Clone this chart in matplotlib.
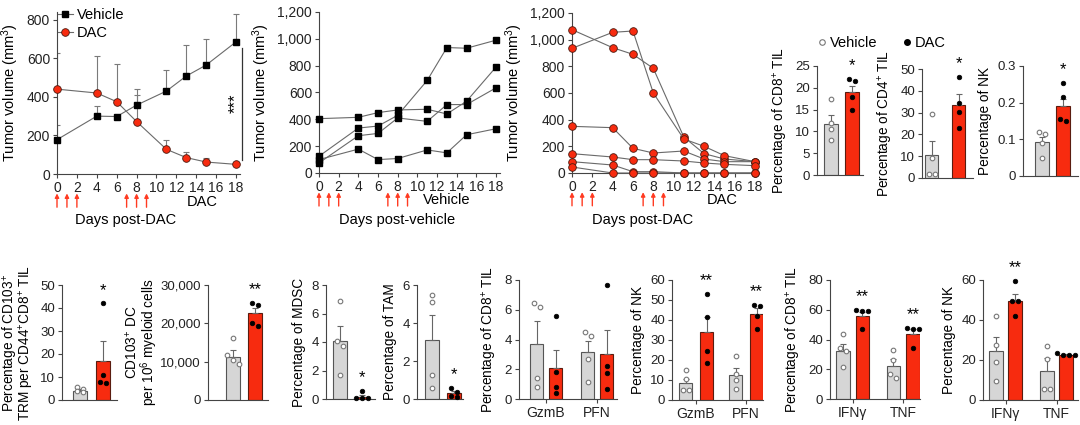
import numpy as np
import matplotlib
matplotlib.use("Agg")
import matplotlib.pyplot as plt
from matplotlib.lines import Line2D
from matplotlib.ticker import FuncFormatter

plt.rcParams['font.family'] = ['Liberation Sans', 'DejaVu Sans']
plt.rcParams['mathtext.fontset'] = 'custom'
plt.rcParams['mathtext.rm'] = 'Liberation Sans'
plt.rcParams['mathtext.it'] = 'Liberation Sans:italic'
plt.rcParams['mathtext.bf'] = 'Liberation Sans:bold'

# ---------------- data: tumour growth ----------------
days = [0, 4, 6, 8, 11, 13, 15, 18]
dose_days = [0, 1, 2, 7, 8, 9]

veh_mean = [178, 300, 298, 357, 430, 508, 565, 685]
veh_err = [77, 55, 0, 83, 110, 162, 135, 143]
dac_mean = [440, 420, 375, 272, 128, 85, 62, 50]
dac_err = [190, 192, 195, 138, 50, 30, 23, 12]

veh_m1 = [125, 335, 350, 430, 690, 935, 930, 990]
veh_m2 = [405, 415, 450, 470, 475, 440, 535, 790]
veh_m3 = [75, 278, 295, 410, 385, 510, 510, 635]
veh_m4 = [100, 178, 100, 108, 172, 150, 285, 330]

dac_m1 = [1075, 940, 890, 785, 270, 145, 105, 85]
dac_m2 = [935, 1055, 1065, 600, 255, 200, 130, 85]
dac_m3 = [350, 340, 185, 150, 165, 105, 85, 85]
dac_m4 = [145, 120, 100, 100, 90, 75, 65, 55]
dac_m5 = [85, 60, 10, 10, 0, 0, 0, 0]
dac_m6 = [45, 0, 0, 0, 0, 0, 0, 0]

# ---------------- data: immune profiling ----------------
cd8_til_veh = [17.5, 12.0, 10.5, 8.0]
cd8_til_dac = [21.5, 22.0, 18.0, 15.0]
cd8_til_mean = [11.7, 19.0]
cd8_til_sem = [2.0, 1.5]
cd8_til_sig = ['*']

cd4_til_veh = [29.5, 9.0, 2.0, 2.0]
cd4_til_dac = [46.5, 34.5, 30.5, 23.0]
cd4_til_mean = [10.5, 33.5]
cd4_til_sem = [6.5, 5.0]
cd4_til_sig = ['*']

nk_veh = [0.115, 0.12, 0.09, 0.05]
nk_dac = [0.255, 0.215, 0.155, 0.15]
nk_mean = [0.092, 0.19]
nk_sem = [0.015, 0.02]
nk_sig = ['*']

trm_veh = [5.0, 5.5, 3.5, 4.0]
trm_dac = [42.0, 11.0, 8.0, 7.5]
trm_mean = [4.0, 17.0]
trm_sem = [0.7, 8.5]
trm_sig = ['*']

dc_veh = [16200, 11700, 10500, 9500]
dc_dac = [25300, 24700, 20000, 19300]
dc_mean = [11300, 22600]
dc_sem = [1700, 1500]
dc_sig = ['**']

mdsc_veh = [6.9, 4.05, 3.7, 1.65]
mdsc_dac = [0.55, 0.1, 0.1, 0.1]
mdsc_mean = [4.05, 0.15]
mdsc_sem = [1.1, 0.1]
mdsc_sig = ['*']

tam_veh = [5.5, 5.1, 1.25, 0.6]
tam_dac = [0.6, 0.35, 0.1, 0.15]
tam_mean = [3.1, 0.3]
tam_sem = [1.3, 0.12]
tam_sig = ['*']

cyto_labels = ['GzmB', 'PFN']
cd8_cyto_veh = [[6.2, 6.45, 1.4, 0.8], [4.5, 4.25, 2.7, 1.15]]
cd8_cyto_dac = [[5.55, 1.8, 0.8, 0.4], [7.65, 2.2, 1.75, 0.7]]
cd8_cyto_mean = [3.7, 2.1, 3.15, 3.05]
cd8_cyto_sem = [1.55, 1.2, 0.75, 1.6]
cd8_cyto_sig = ['', '']

nk_cyto_veh = [[15.0, 10.5, 5.0, 5.0], [22.0, 13.0, 10.0, 5.5]]
nk_cyto_dac = [[53.0, 41.5, 24.5, 18.5], [47.0, 47.5, 42.0, 35.5]]
nk_cyto_mean = [8.5, 34.0, 12.5, 43.0]
nk_cyto_sem = [2.2, 7.5, 3.5, 2.8]
nk_cyto_sig = ['**', '**']

cytok_labels = ['IFNγ', 'TNF']
cd8_cytok_veh = [[43.5, 34.0, 32.5, 21.5], [33.0, 26.0, 16.5, 14.0]]
cd8_cytok_dac = [[60.0, 59.0, 59.0, 47.0], [48.0, 47.0, 47.0, 34.0]]
cd8_cytok_mean = [32.5, 55.5, 22.5, 44.0]
cd8_cytok_sem = [4.5, 2.8, 4.3, 3.0]
cd8_cytok_sig = ['**', '**']

nk_cytok_veh = [[42.0, 27.5, 19.0, 9.5], [27.0, 20.5, 5.5, 5.5]]
nk_cytok_dac = [[59.5, 49.5, 49.5, 42.0], [22.5, 23.5, 22.5, 22.5]]
nk_cytok_mean = [24.5, 49.5, 14.5, 22.5]
nk_cytok_sem = [7.0, 3.6, 6.5, 0.4]
nk_cytok_sig = ['**', '']

# ---------------- style ----------------
RED = '#f72b0f'
ARROW = '#ff3b22'
GREY_BAR = '#d6d6d6'
EDGE = '#555555'
SPINE = '#444444'
FS_TOP = 10
FS = 9.5

W, H = 1080, 425
fig = plt.figure(figsize=(W / 100, H / 100), dpi=100)


def make_ax(l, r, b, t, fs=FS):
    ax = fig.add_axes([l / W, 1 - b / H, (r - l) / W, (b - t) / H])
    for s in ['top', 'right']:
        ax.spines[s].set_visible(False)
    for s in ['left', 'bottom']:
        ax.spines[s].set_color(SPINE)
        ax.spines[s].set_linewidth(0.8)
    ax.tick_params(length=3, width=0.8, color=SPINE, labelsize=fs, pad=2,
                   labelcolor='#222222')
    return ax


comma = FuncFormatter(lambda v, p: f'{v:,.0f}')
plain = FuncFormatter(lambda v, p: f'{v:g}')


def arrows(ax, label, label_x):
    for d in dose_days:
        ax.annotate('', xy=(d, -0.12), xytext=(d, -0.205),
                    xycoords=('data', 'axes fraction'),
                    textcoords=('data', 'axes fraction'),
                    arrowprops=dict(arrowstyle='-|>', color=ARROW, lw=1.0,
                                    mutation_scale=6, shrinkA=0, shrinkB=0))
    ax.text(label_x, -0.17, label, transform=ax.get_xaxis_transform(),
            ha='center', va='center', fontsize=FS_TOP + 0.5)


def line_axes(l, r, b, t, ymax, yticks):
    ax = make_ax(l, r, b, t, FS_TOP)
    ax.set_xlim(0, 18.4)
    ax.set_ylim(0, ymax)
    ax.set_xticks(range(0, 19, 2))
    ax.set_yticks(yticks)
    ax.yaxis.set_major_formatter(comma)
    ax.set_ylabel('Tumor volume (mm$^{3}$)', fontsize=FS_TOP + 0.5, labelpad=4)
    return ax


# ---- Panel A: mean growth ----
axA = line_axes(57, 240, 174, 12, 840, [0, 200, 400, 600, 800])
zeros = np.zeros(len(days))
axA.errorbar(days, veh_mean, yerr=[zeros, veh_err], fmt='none', ecolor='#7a7a7a',
             elinewidth=0.8, capsize=2.5, capthick=0.8, zorder=2)
axA.errorbar(days, dac_mean, yerr=[zeros, dac_err], fmt='none', ecolor='#7a7a7a',
             elinewidth=0.8, capsize=2.5, capthick=0.8, zorder=2)
axA.plot(days, veh_mean, color='#6a6a6a', lw=0.8, marker='s', ms=5, mfc='black',
         mec='black', zorder=4, clip_on=False, label='Vehicle')
axA.plot(days, dac_mean, color='#6a6a6a', lw=0.8, marker='o', ms=5.5, mfc=RED,
         mec='#4a1a10', mew=0.6, zorder=4, clip_on=False, label='DAC')
axA.legend(loc='upper left', bbox_to_anchor=(58 / W, 1 - 8 / H),
           bbox_transform=fig.transFigure, frameon=False, fontsize=FS_TOP + 0.5,
           handlelength=1.0, handletextpad=0.3, borderaxespad=0, borderpad=0,
           labelspacing=0.25)
sig_x = 18.6
axA.plot([sig_x, sig_x], [dac_mean[-1] + 25, veh_mean[-1] - 30], color='#333333',
         lw=0.9, clip_on=False)
axA.text(17.95, (dac_mean[-1] + veh_mean[-1]) / 2, '***', rotation=90,
         ha='center', va='center', fontsize=12)
arrows(axA, 'DAC', 14.6)
fig.text(126 / W, 1 - 220 / H, 'Days post-DAC', ha='center', va='center',
         fontsize=FS_TOP + 0.5)

# ---- Panel B: vehicle individual ----
axB = line_axes(319, 500, 173, 12, 1200, [0, 200, 400, 600, 800, 1000, 1200])
for m in [veh_m1, veh_m2, veh_m3, veh_m4]:
    axB.plot(days, m, color='#6a6a6a', lw=0.8, marker='s', ms=5, mfc='black',
             mec='black', clip_on=False, zorder=3)
arrows(axB, 'Vehicle', 13.0)
fig.text(397 / W, 1 - 220 / H, 'Days post-vehicle', ha='center', va='center',
         fontsize=FS_TOP + 0.5)

# ---- Panel C: DAC individual ----
axC = line_axes(572, 759, 173, 13, 1200, [0, 200, 400, 600, 800, 1000, 1200])
for m in [dac_m1, dac_m2, dac_m3, dac_m4, dac_m5, dac_m6]:
    axC.plot(days, m, color='#6a6a6a', lw=0.8, marker='o', ms=5.5, mfc=RED,
             mec='#4a1a10', mew=0.6, clip_on=False, zorder=3)
arrows(axC, 'DAC', 14.75)
fig.text(643 / W, 1 - 220 / H, 'Days post-DAC', ha='center', va='center',
         fontsize=FS_TOP + 0.5)


# ---------------- bar panels ----------------
def swarm(vals, ppu_y, step):
    """horizontal offsets (data units) for points that overlap vertically"""
    vals = np.asarray(vals, float)
    order = np.argsort(-vals)
    offs = np.zeros(len(vals))
    clusters, cur = [], [order[0]]
    for a, b in zip(order[:-1], order[1:]):
        if abs(vals[a] - vals[b]) * ppu_y < 5.0:
            cur.append(b)
        else:
            clusters.append(cur)
            cur = [b]
    clusters.append(cur)
    for c in clusters:
        k = len(c)
        if k == 4 and abs(vals[c[0]] - vals[c[-1]]) * ppu_y > 2.0:
            pattern = [-0.5, 0.5, -0.5, 0.5]
        else:
            pattern = [i - (k - 1) / 2 for i in range(k)]
        for p, idx in zip(pattern, c):
            offs[idx] = p * step
    return offs


def bar_panel(rect, t0, t1, unit, veh_pts, dac_pts, means, sems, sigs,
              ymax, yticks, ylabel, xlabels=None, fmt=plain):
    l, r, b, t = rect
    ax = make_ax(l, r, b, t)
    ax.set_xlim((l - t0) / unit, (r - t0) / unit)
    ax.set_ylim(0, ymax)
    ax.set_yticks(yticks)
    ax.yaxis.set_major_formatter(fmt)
    ppu_y = (b - t) / ymax
    gap = 0 if t1 is None else (t1 - t0) / unit
    width = 13.5 / unit
    step = 6.0 / unit
    ngroups = len(veh_pts)
    centers = []
    for g in range(ngroups):
        xv, xd = g * gap - 0.5, g * gap + 0.5
        centers.append(g * gap)
        mv, md = means[2 * g], means[2 * g + 1]
        sv, sd = sems[2 * g], sems[2 * g + 1]
        ax.bar([xv], [mv], width=width, color=GREY_BAR, edgecolor=EDGE, lw=0.8, zorder=2)
        ax.bar([xd], [md], width=width, color=RED, edgecolor='#5a1c10', lw=0.8, zorder=2)
        ax.errorbar([xv, xd], [mv, md], yerr=[[0, 0], [sv, sd]], fmt='none',
                    ecolor='#666666', elinewidth=0.8, capsize=2, capthick=0.8, zorder=3)
        ov = swarm(veh_pts[g], ppu_y, step)
        od = swarm(dac_pts[g], ppu_y, step)
        ax.scatter(xv + ov, veh_pts[g], s=11, facecolor='white', edgecolor='#777777',
                   lw=0.8, zorder=4, clip_on=False)
        ax.scatter(xd + od, dac_pts[g], s=11, facecolor='black', edgecolor='black',
                   lw=0.5, zorder=4, clip_on=False)
        if sigs[g]:
            top = max(max(dac_pts[g]), md + sd)
            ax.annotate(sigs[g], xy=(xd, top), xytext=(0, 4), textcoords='offset points',
                        ha='center', va='bottom', fontsize=12)
    if xlabels is None:
        ax.set_xticks([])
    else:
        ax.set_xticks(centers)
        ax.set_xticklabels(xlabels, fontsize=FS + 0.5)
    if isinstance(ylabel, str):
        ax.set_ylabel(ylabel, fontsize=FS + 0.3, labelpad=4)
    else:
        # multi-line label placed line by line (x pixel, text)
        yc = 1 - (b + t) / 2 / H
        for xpx, txt in ylabel:
            fig.text(xpx / W, yc, txt, rotation=90, ha='center', va='center',
                     fontsize=FS + 0.3)
    return ax


bar_panel((817, 863, 175, 66), 841.5, None, 21, [cd8_til_veh], [cd8_til_dac],
          cd8_til_mean, cd8_til_sem, cd8_til_sig, 25, [0, 5, 10, 15, 20, 25],
          'Percentage of CD8$^{+}$ TIL')
bar_panel((922, 973, 178, 69), 945, None, 27, [cd4_til_veh], [cd4_til_dac],
          cd4_til_mean, cd4_til_sem, cd4_til_sig, 50, [0, 10, 20, 30, 40, 50],
          'Percentage of CD4$^{+}$ TIL')
bar_panel((1023, 1078, 176, 66), 1052.5, None, 21, [nk_veh], [nk_dac],
          nk_mean, nk_sem, nk_sig, 0.3, [0, 0.1, 0.2, 0.3],
          'Percentage of NK')

leg_handles = [Line2D([], [], ls='none', marker='o', ms=4, mfc='white', mec='#777777', mew=0.8),
               Line2D([], [], ls='none', marker='o', ms=4, mfc='black', mec='black')]
fig.legend(leg_handles, ['Vehicle', 'DAC'], loc='center left',
           bbox_to_anchor=(818 / W, 1 - 43 / H), ncol=2, frameon=False,
           fontsize=FS + 1, handlelength=0.5, handletextpad=0.3, columnspacing=1.8,
           borderpad=0, borderaxespad=0)

bar_panel((62, 117, 400, 285), 91.5, None, 23, [trm_veh], [trm_dac],
          trm_mean, trm_sem, trm_sig, 50, [0, 10, 20, 30, 40, 50],
          [(10, 'Percentage of CD103$^{+}$'),
           (27, 'TRM per CD44$^{+}$CD8$^{+}$ TIL')])
bar_panel((208, 268, 400, 285), 244, None, 22, [dc_veh], [dc_dac],
          dc_mean, dc_sem, dc_sig, 30000, [0, 10000, 20000, 30000],
          [(132, 'CD103$^{+}$ DC'), (149, 'per 10$^{6}$ myeloid cells')], fmt=comma)
bar_panel((326, 375, 399, 285), 351, None, 22, [mdsc_veh], [mdsc_dac],
          mdsc_mean, mdsc_sem, mdsc_sig, 8, [0, 2, 4, 6, 8],
          'Percentage of MDSC')
bar_panel((417, 463, 399, 285), 443, None, 22, [tam_veh], [tam_dac],
          tam_mean, tam_sem, tam_sig, 6, [0, 2, 4, 6],
          'Percentage of TAM')
bar_panel((519, 617, 399, 280), 546, 597, 19, cd8_cyto_veh, cd8_cyto_dac,
          cd8_cyto_mean, cd8_cyto_sem, cd8_cyto_sig, 8, [0, 2, 4, 6, 8],
          'Percentage of CD8$^{+}$ TIL', xlabels=cyto_labels)
bar_panel((672, 763, 400, 280), 696, 746, 21, nk_cyto_veh, nk_cyto_dac,
          nk_cyto_mean, nk_cyto_sem, nk_cyto_sig, 60, [0, 10, 20, 30, 40, 50, 60],
          'Percentage of NK', xlabels=cyto_labels)
bar_panel((830, 920, 399, 280), 852.5, 903, 19.5, cd8_cytok_veh, cd8_cytok_dac,
          cd8_cytok_mean, cd8_cytok_sem, cd8_cytok_sig, 80, [0, 20, 40, 60, 80],
          'Percentage of CD8$^{+}$ TIL', xlabels=cytok_labels)
bar_panel((983, 1078, 400, 280), 1005.5, 1056.5, 19, nk_cytok_veh, nk_cytok_dac,
          nk_cytok_mean, nk_cytok_sem, nk_cytok_sig, 60, [0, 20, 40, 60],
          'Percentage of NK', xlabels=cytok_labels)

fig.savefig('out.png', dpi=100, facecolor='white')
